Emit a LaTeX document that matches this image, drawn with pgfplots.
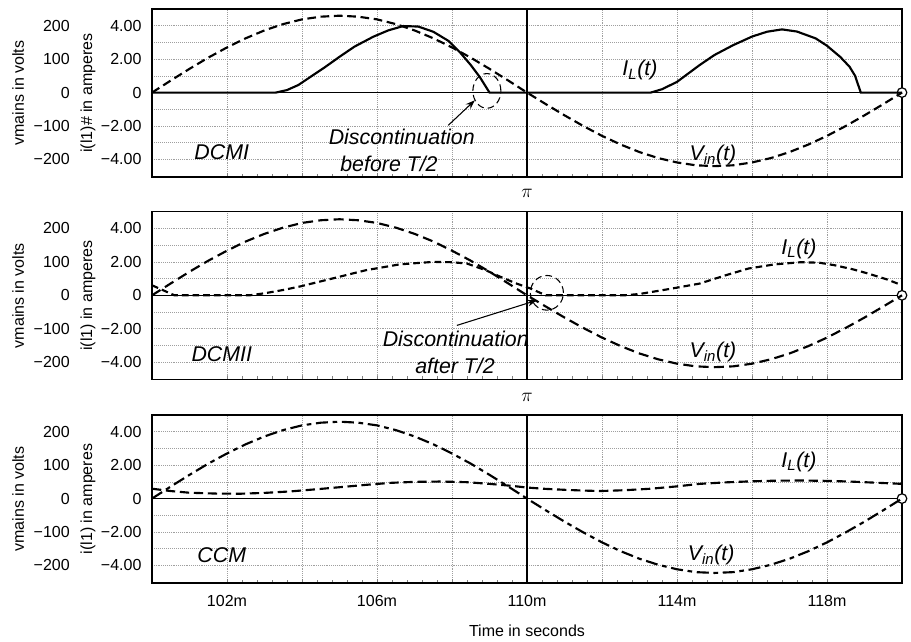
\documentclass[border=0pt]{standalone}
\usepackage{fontspec}
\setmainfont{Liberation Sans}
\usepackage{pgfplots}
\pgfplotsset{compat=1.18}
\usetikzlibrary{arrows.meta}

\newcommand{\ann}{\fontsize{16}{18}\selectfont\itshape}
\newcommand{\tickfont}{\fontsize{12}{14}\selectfont}
\newcommand{\IL}{\textit{I\textsubscript{L}(t)}}
\newcommand{\Vin}{\textit{V\textsubscript{in}(t)}}

% px -> pt : 0.75
\pgfplotsset{
  panel/.style={
    scale only axis, width=562.5pt, height=126pt,
    xmin=100, xmax=120, ymin=-5.05, ymax=5.0,
    clip=false,
    axis line style={black, line width=0.8pt},
    xtick={102,104,...,118}, xticklabels={},
    minor x tick num=4,
    ytick={-4,-2,0,2,4},
    yticklabels={−4.00,−2.00,0,2.00,4.00},
    minor y tick num=1,
    xmajorgrids, ymajorgrids, yminorgrids,
    grid style={densely dotted, gray!75, line width=0.5pt},
    minor grid style={densely dotted, gray!75, line width=0.5pt},
    tick pos=left, tick align=inside,
    major tick length=3pt, minor tick length=2.5pt,
    xtick style={gray, line width=0.5pt},
    ytick style={draw=none},
    tick label style={font=\tickfont},
    yticklabel style={inner sep=0pt, xshift=-7.7pt},
  },
}

\newcommand{\deco}[1]{%
  \draw[black, line width=0.8pt] (axis cs:110,-5.05) -- (axis cs:110,5.0);
  \draw[black, line width=0.8pt] (axis cs:100,0) -- (axis cs:120,0);
  \node[anchor=east, inner sep=0pt, xshift=-61.5pt, font=\tickfont] at (axis cs:100,4) {200};
  \node[anchor=east, inner sep=0pt, xshift=-61.5pt, font=\tickfont] at (axis cs:100,2) {100};
  \node[anchor=east, inner sep=0pt, xshift=-61.5pt, font=\tickfont] at (axis cs:100,0) {0};
  \node[anchor=east, inner sep=0pt, xshift=-61.5pt, font=\tickfont] at (axis cs:100,-2) {−100};
  \node[anchor=east, inner sep=0pt, xshift=-61.5pt, font=\tickfont] at (axis cs:100,-4) {−200};
  \node[xshift=-100.3pt, rotate=90, font=\tickfont, anchor=center] at (axis description cs:0,0.5) {vmains in volts};
  \node[xshift=-48pt, rotate=90, font=\tickfont, anchor=center] at (axis description cs:0,0.5) {#1};
  \draw[black, line width=0.9pt, fill=white] (axis cs:120,0) circle[radius=3.6pt];
}

\begin{document}
\begin{tikzpicture}
\useasboundingbox (0,0) rectangle (683.25pt,-481.5pt);

% ---------------- DCM I ----------------
\begin{axis}[panel, at={(114pt,-6.75pt)}, anchor=north west]
\deco{i(l1)\# in amperes}
\addplot[black, line width=1.6pt, dash pattern=on 6.5pt off 3.5pt] coordinates {
(100,0) (100.5,0.72) (101,1.42) (101.5,2.09) (102,2.70) (102.5,3.25) (103,3.72)
(103.5,4.10) (104,4.38) (104.5,4.54) (105,4.60) (105.5,4.54) (106,4.38) (106.5,4.10)
(107,3.72) (107.5,3.25) (108,2.70) (108.5,2.09) (109,1.42) (109.5,0.72) (110,0)
(110.5,-0.69) (111,-1.36) (111.5,-2.00) (112,-2.59) (112.5,-3.11) (113,-3.56)
(113.5,-3.92) (114,-4.18) (114.5,-4.35) (115,-4.40) (115.5,-4.35) (116,-4.18)
(116.5,-3.92) (117,-3.56) (117.5,-3.11) (118,-2.59) (118.5,-2.00) (119,-1.36)
(119.5,-0.69) (120,0)};
\addplot[black, line width=1.6pt] coordinates {
(100,0) (103.3,0) (103.6,0.15) (103.9,0.45) (104.2,0.9) (104.6,1.5) (105.0,2.14)
(105.4,2.75) (105.9,3.34) (106.3,3.72) (106.7,3.98) (107.1,3.95) (107.5,3.64)
(107.9,3.1) (108.2,2.44) (108.5,1.65) (108.75,0.9) (109.0,0) (113.3,0)
(113.6,0.2) (114.0,0.64) (114.6,1.64) (115.0,2.25) (115.5,2.84) (116.0,3.35)
(116.4,3.64) (116.8,3.78) (117.2,3.65) (117.7,3.24) (118.0,2.8) (118.35,2.14)
(118.6,1.55) (118.75,1.0) (118.9,0) (120,0)};
\draw[black, line width=0.8pt, dash pattern=on 5pt off 3pt] (axis cs:108.93,0.1) ellipse[x radius=10.5pt, y radius=13pt];
\draw[black, line width=0.8pt, -{Stealth[length=7pt, width=5pt]}] (axis cs:107.9,-1.96) -- (axis cs:108.61,-0.46);
\node[font=\ann] at (axis cs:101.86,-3.56) {DCMI};
\node[font=\ann] at (axis cs:106.66,-2.66) {Discontinuation};
\node[font=\ann] at (axis cs:106.32,-4.26) {before T/2};
\node[font=\ann] at (axis cs:113.01,1.34) {\IL};
\node[font=\ann] at (axis cs:114.96,-3.76) {\Vin};
\node[font=\fontsize{15}{16}\selectfont] at (axis description cs:0.5,0) [yshift=-12.2pt] {$\pi$};
\end{axis}

% ---------------- DCM II ----------------
\begin{axis}[panel, at={(114pt,-158.8pt)}, anchor=north west]
\deco{i(l1) in amperes}
\addplot[black, line width=1.6pt, dash pattern=on 7.5pt off 4pt] coordinates {
(100,0) (100.5,0.71) (101,1.41) (101.5,2.07) (102,2.67) (102.5,3.22) (103,3.68)
(103.5,4.05) (104,4.33) (104.5,4.49) (105,4.55) (105.5,4.49) (106,4.33) (106.5,4.05)
(107,3.68) (107.5,3.22) (108,2.67) (108.5,2.07) (109,1.41) (109.5,0.71) (110,0)
(110.5,-0.67) (111,-1.33) (111.5,-1.95) (112,-2.53) (112.5,-3.04) (113,-3.48)
(113.5,-3.83) (114,-4.09) (114.5,-4.25) (115,-4.30) (115.5,-4.25) (116,-4.09)
(116.5,-3.83) (117,-3.48) (117.5,-3.04) (118,-2.53) (118.5,-1.95) (119,-1.33)
(119.5,-0.67) (120,0)};
\addplot[black, line width=1.6pt, dash pattern=on 5pt off 3pt] coordinates {
(100,0.6) (100.3,0.3) (100.6,0) (102.6,0) (103.0,0.12) (103.5,0.32) (103.95,0.53)
(104.8,1.0) (105.7,1.5) (106.6,1.85) (107.5,2.0) (108.0,1.98) (108.4,1.9)
(108.9,1.5) (109.3,1.1) (109.7,0.72) (110.1,0.4) (110.5,0) (112.6,0) (113.0,0.08)
(113.8,0.38) (114.6,0.7) (115.3,1.2) (115.9,1.6) (116.6,1.85) (117.3,1.98)
(117.8,1.95) (118.2,1.8) (118.7,1.55) (119.1,1.3) (119.6,0.95) (120,0.6)};
\draw[black, line width=0.8pt, dash pattern=on 5pt off 3pt] (axis cs:110.53,0.15) ellipse[x radius=12.4pt, y radius=13pt];
\draw[black, line width=0.8pt, -{Stealth[length=7pt, width=5pt]}] (axis cs:108.13,-1.8) -- (axis cs:110.26,-0.3);
\node[font=\ann] at (axis cs:101.86,-3.5) {DCMII};
\node[font=\ann] at (axis cs:108.1,-2.6) {Discontinuation};
\node[font=\ann] at (axis cs:108.08,-4.2) {after T/2};
\node[font=\ann] at (axis cs:117.25,2.8) {\IL};
\node[font=\ann] at (axis cs:114.96,-3.4) {\Vin};
\node[font=\fontsize{15}{16}\selectfont] at (axis description cs:0.5,0) [yshift=-13.5pt] {$\pi$};
\end{axis}

% ---------------- CCM ----------------
\begin{axis}[panel, at={(114pt,-311.25pt)}, anchor=north west,
  xticklabels={102m,,106m,,110m,,114m,,118m},
  xticklabel style={inner sep=0pt, anchor=north, yshift=-9pt}]
\deco{i(l1) in amperes}
\addplot[black, line width=1.6pt, dash pattern=on 9pt off 3.5pt on 3.5pt off 3.5pt] coordinates {
(100,0) (100.5,0.72) (101,1.42) (101.5,2.09) (102,2.70) (102.5,3.25) (103,3.72)
(103.5,4.10) (104,4.38) (104.5,4.54) (105,4.60) (105.5,4.54) (106,4.38) (106.5,4.10)
(107,3.72) (107.5,3.25) (108,2.70) (108.5,2.09) (109,1.42) (109.5,0.72) (110,0)
(110.5,-0.70) (111,-1.38) (111.5,-2.02) (112,-2.62) (112.5,-3.15) (113,-3.60)
(113.5,-3.96) (114,-4.23) (114.5,-4.40) (115,-4.45) (115.5,-4.40) (116,-4.23)
(116.5,-3.96) (117,-3.60) (117.5,-3.15) (118,-2.62) (118.5,-2.02) (119,-1.38)
(119.5,-0.70) (120,0)};
\addplot[black, line width=1.6pt, dash pattern=on 7pt off 3.5pt] coordinates {
(100,0.59) (100.5,0.45) (101.0,0.35) (101.7,0.3) (102.35,0.29) (103.0,0.34)
(103.7,0.43) (104.4,0.56) (105.0,0.68) (105.7,0.82) (106.35,0.94) (107.0,1.0)
(107.7,1.02) (108.4,0.98) (109.0,0.88) (109.6,0.76) (110.0,0.66) (110.5,0.58)
(111.05,0.52) (111.5,0.48) (111.95,0.45) (112.6,0.5) (113.3,0.59) (114.0,0.73)
(114.6,0.88) (115.3,0.97) (115.95,1.03) (116.6,1.07) (117.3,1.08) (118.0,1.06)
(118.6,1.02) (119.3,0.95) (120,0.88)};
\node[font=\ann] at (axis cs:101.86,-3.4) {CCM};
\node[font=\ann] at (axis cs:117.25,2.2) {\IL};
\node[font=\ann] at (axis cs:114.91,-3.4) {\Vin};
\node[font=\tickfont] at (axis description cs:0.5,0) [yshift=-35.8pt] {Time in seconds};
\end{axis}
\end{tikzpicture}
\end{document}
